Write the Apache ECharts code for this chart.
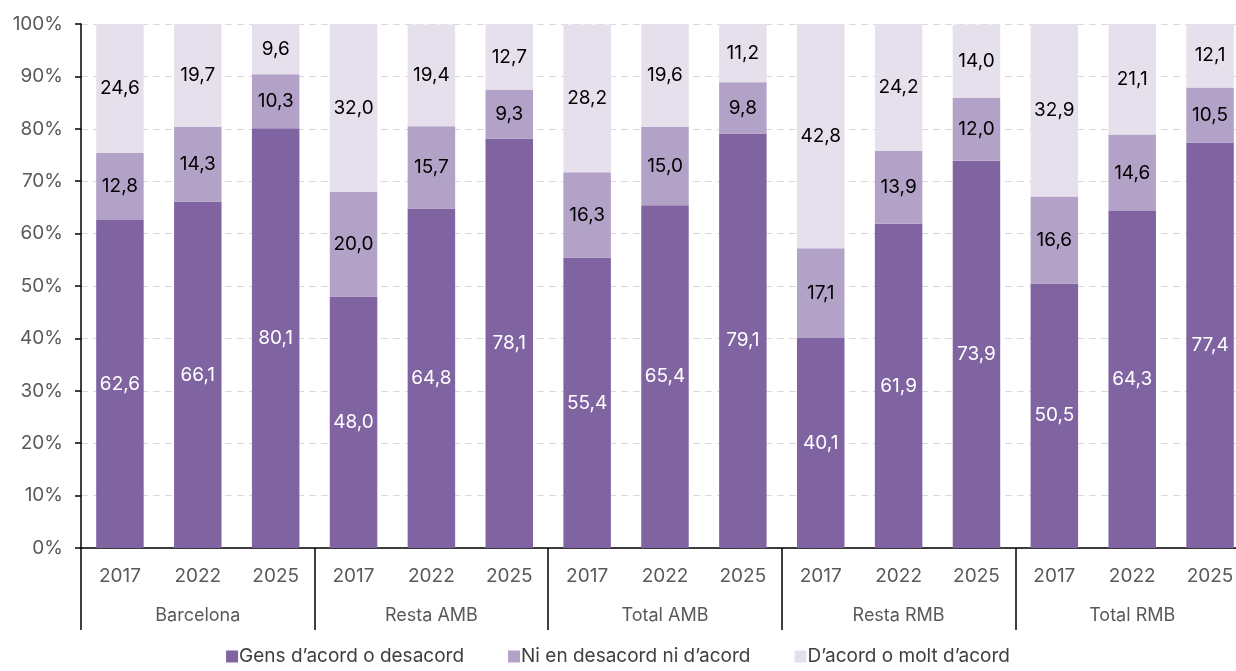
<!DOCTYPE html>
<html>
<head>
<meta charset="utf-8">
<script src="https://cdn.jsdelivr.net/npm/echarts@6/dist/echarts.min.js"></script>
<style>
  html, body { margin: 0; padding: 0; background: #fff; }
  #chart { width: 1236px; height: 671px; }
</style>
</head>
<body>
<div id="chart"></div>
<script>
'use strict';

const groups = ['Barcelona', 'Resta AMB', 'Total AMB', 'Resta RMB', 'Total RMB'];
const years = ['2017', '2022', '2025'];
const seriesNames = ['Gens d\u2019acord o desacord', 'Ni en desacord ni d\u2019acord', 'D\u2019acord o molt d\u2019acord'];

// one value per bar, in group order (Barcelona 2017, 2022, 2025, Resta AMB 2017, ...)
const gens = [62.6, 66.1, 80.1, 48.0, 64.8, 78.1, 55.4, 65.4, 79.1, 40.1, 61.9, 73.9, 50.5, 64.3, 77.4];
const ni = [12.8, 14.3, 10.3, 20.0, 15.7, 9.3, 16.3, 15.0, 9.8, 17.1, 13.9, 12.0, 16.6, 14.6, 10.5];
const acord = [24.6, 19.7, 9.6, 32.0, 19.4, 12.7, 28.2, 19.6, 11.2, 42.8, 24.2, 14.0, 32.9, 21.1, 12.1];

const colors = ['#8064a2', '#b3a2c7', '#e6e0ec'];
const font = 'Inter, Roboto, "Noto Sans", sans-serif';

const yearCats = [];
groups.forEach(() => years.forEach(y => yearCats.push(y)));

function fmt(v) {
    return v.toFixed(1).replace('.', ',');
}

function makeSeries(name, data, color, textColor) {
    return {
        name: name,
        type: 'bar',
        stack: 'total',
        barWidth: '61%',
        data: data,
        itemStyle: {color: color},
        label: {
            show: true,
            position: 'inside',
            color: textColor,
            fontFamily: font,
            fontSize: 19,
            formatter: p => fmt(p.value)
        }
    };
}

const chart = echarts.init(document.getElementById('chart'));
chart.setOption({
    animation: false,
    textStyle: {fontFamily: font},
    grid: {left: 81, top: 24, width: 1168, height: 524, outerBoundsMode: 'none', containLabel: false},
    legend: {
        bottom: 0,
        left: 'center',
        itemWidth: 12,
        itemHeight: 12,
        itemGap: 44,
        icon: 'rect',
        textStyle: {fontFamily: font, fontSize: 19, color: '#404040', padding: [0, 0, 0, -4]},
        data: seriesNames
    },
    xAxis: [
        {
            type: 'category',
            data: yearCats,
            position: 'bottom',
            axisLine: {lineStyle: {color: '#000', width: 1.5}},
            axisTick: {show: false},
            axisLabel: {color: '#595959', fontSize: 19, margin: 19, fontFamily: font}
        },
        {
            type: 'category',
            data: groups,
            position: 'bottom',
            axisLine: {show: false},
            axisTick: {show: true, length: 82, lineStyle: {color: '#000', width: 1.5}},
            axisLabel: {color: '#595959', fontSize: 18, margin: 59, fontFamily: font}
        }
    ],
    yAxis: {
        type: 'value',
        min: 0,
        max: 100,
        interval: 10,
        axisLine: {show: true, lineStyle: {color: '#000', width: 1.5}},
        axisTick: {show: true, length: 6, lineStyle: {color: '#000', width: 1.5}},
        axisLabel: {color: '#595959', fontSize: 19, margin: 18, fontFamily: font, formatter: '{value}%'},
        splitLine: {lineStyle: {color: '#d9d9d9', type: [7, 5], width: 1.2}}
    },
    series: [
        makeSeries(seriesNames[0], gens, colors[0], '#fff'),
        makeSeries(seriesNames[1], ni, colors[1], '#000'),
        makeSeries(seriesNames[2], acord, colors[2], '#000')
    ]
});
</script>
</body>
</html>
